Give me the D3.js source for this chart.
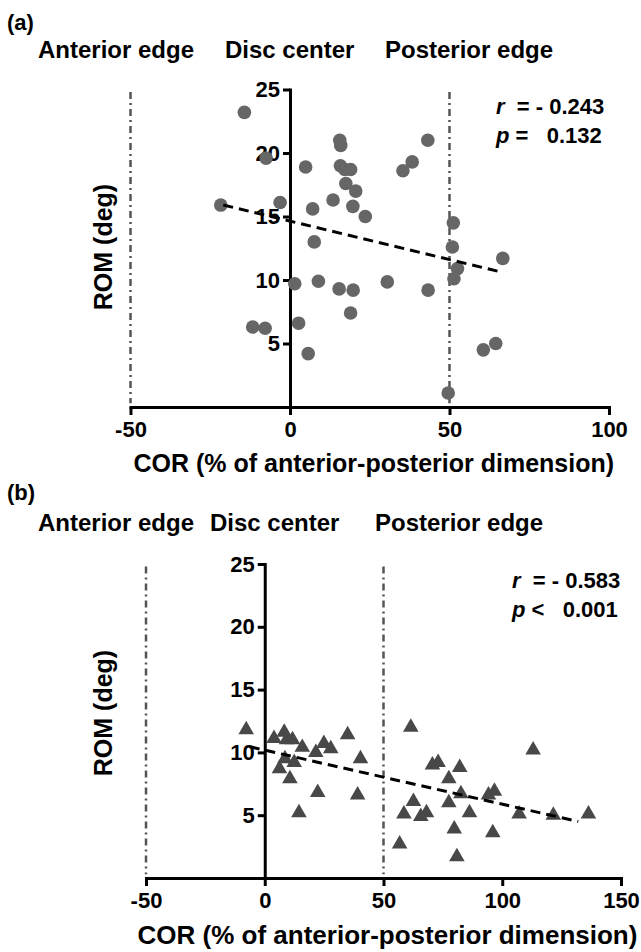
<html>
<head>
<meta charset="utf-8" />
<title>COR vs ROM</title>
<script src="https://d3js.org/d3.v7.min.js"></script>
<style>
  body { margin: 0; background: white; }
  text { font-family: "Liberation Sans", Arial, sans-serif; font-weight: bold; fill: black; }
  .axis path, .axis line { stroke: black; stroke-width: 3; }
  .axis text { font-size: 22px; }
  .edge { stroke: #555; stroke-width: 2.5; stroke-dasharray: 7,4,2,4; }
  .fit { stroke: black; stroke-width: 3; stroke-dasharray: 10,6; fill: none; }
</style>
</head>
<body>
<script>
// panel (a) - circles
var corA = [-14.3, -7.5, -21.7, -3.1, 4.9, 7.1, 7.6, 15.6, 15.9, 15.8, 17.2, 19.0, 17.5, 20.6, 13.5, 19.7, 23.6,
            1.5, 8.9, 15.4, 19.8, 19.0, 2.7, -11.7, -7.8, 5.7, 30.5,
            43.2, 38.3, 35.4, 51.2, 50.9, 52.5, 51.4, 66.7, 43.3, 60.6, 64.5, 49.6];
var romA = [23.2, 19.6, 15.9, 16.1, 18.9, 15.6, 13.0, 21.0, 20.6, 19.0, 18.7, 18.7, 17.6, 17.0, 16.3, 15.8, 15.0,
            9.7, 9.9, 9.3, 9.2, 7.4, 6.6, 6.3, 6.2, 4.2, 9.85,
            21.0, 19.3, 18.6, 14.5, 12.6, 10.9, 10.1, 11.7, 9.2, 4.5, 5.0, 1.1];
var fitA = [[-20.9, 15.9], [66.7, 10.6]];

// panel (b) - triangles
var corB = [-7.8, 3.9, 8.2, 9.2, 11.7, 15.8, 21.5, 24.9, 27.8, 34.9, 40.3, 8.5, 12.4, 6.2, 10.6, 22.3, 39.1, 14.4,
            61.5, 113.0, 70.6, 73.0, 82.1, 77.5, 82.6, 77.5, 62.6, 94.2, 96.7, 58.6, 65.7, 68.1, 86.2, 107.1,
            121.5, 136.3, 56.8, 79.8, 96.0, 80.9];
var romB = [11.8, 11.1, 11.6, 11.0, 11.0, 10.4, 10.0, 10.7, 10.3, 11.4, 9.5, 9.5, 9.2, 8.7, 7.9, 6.8, 6.6, 5.2,
            12.0, 10.2, 9.0, 9.2, 8.8, 7.9, 6.7, 6.0, 6.1, 6.6, 6.9, 5.1, 4.9, 5.2, 5.2, 5.1,
            5.0, 5.1, 2.7, 3.9, 3.6, 1.7];
var fitB = [[-6.3, 10.45], [132, 4.5]];

var yTicks = [5, 10, 15, 20, 25];
var xTicksA = [-50, 0, 50, 100];
var xTicksB = [-50, 0, 50, 100, 150];
var edges = [-50, 50];
var xTitle = "COR (% of anterior-posterior dimension)";
var yTitle = "ROM (deg)";

var svg = d3.select("body").append("svg")
    .attr("width", 641)
    .attr("height", 952);

var panels = [
  {label: "(a)", labelY: 30, headY: 58, heads: [38, 225, 385],
   xs: corA, ys: romA, fit: fitA, xDomain: [-50, 100], xRange: [130.5, 609], yRange: [407, 89.5],
   xTicks: xTicksA, shape: "circle", r: "r", rv: "= - 0.243", p: "p", pop: "=", pv: "0.132",
   statX: 496, statY: 114, yLabelY: 247, xTitleY: 472, xTitleSize: 25},
  {label: "(b)", labelY: 500, headY: 531, heads: [38, 210, 375],
   xs: corB, ys: romB, fit: fitB, xDomain: [-50, 150], xRange: [146, 621], yRange: [878, 564],
   xTicks: xTicksB, shape: "triangle", r: "r", rv: "= - 0.583", p: "p", pop: "<", pv: "0.001",
   statX: 512, statY: 588, yLabelY: 713, xTitleY: 944, xTitleSize: 26}
];

panels.forEach(function(pn) {
  var x = d3.scaleLinear().domain(pn.xDomain).range(pn.xRange),
      y = d3.scaleLinear().domain([0, 25]).range(pn.yRange);
  var g = svg.append("g");

  // panel label and region headings
  g.append("text").attr("x", 7).attr("y", pn.labelY).style("font-size", "22px").text(pn.label);
  ["Anterior edge", "Disc center", "Posterior edge"].forEach(function(t, i) {
    g.append("text").attr("x", pn.heads[i]).attr("y", pn.headY).style("font-size", "24px").text(t);
  });

  // dash-dot edge markers
  g.selectAll(".edge").data(edges).enter().append("line")
      .attr("class", "edge")
      .attr("x1", function(d) { return x(d); })
      .attr("x2", function(d) { return x(d); })
      .attr("y1", y(24.8))
      .attr("y2", y(0.3));

  // axes (plain hyphen for negatives, as in the figure)
  g.append("g").attr("class", "axis")
      .attr("transform", "translate(0," + y(0) + ")")
      .call(d3.axisBottom(x).tickValues(pn.xTicks).tickSize(8).tickSizeOuter(0).tickPadding(6)
        .tickFormat(function(d) { return String(d); }));
  g.append("g").attr("class", "axis")
      .attr("transform", "translate(" + x(0) + ",0)")
      .call(d3.axisLeft(y).tickValues(yTicks).tickSize(7).tickSizeOuter(0).tickPadding(3));
  g.selectAll(".axis text").attr("fill", "black");
  g.selectAll(".axis path").attr("stroke-linecap", "square");

  // points
  var pts = d3.range(pn.xs.length);
  if (pn.shape === "circle") {
    g.selectAll(".pt").data(pts).enter().append("circle")
        .attr("cx", function(i) { return x(pn.xs[i]); })
        .attr("cy", function(i) { return y(pn.ys[i]); })
        .attr("r", 6.8)
        .attr("fill", "#666");
  } else {
    var tri = d3.symbol().type(d3.symbolTriangle).size(105);
    g.selectAll(".pt").data(pts).enter().append("path")
        .attr("d", tri)
        .attr("transform", function(i) { return "translate(" + x(pn.xs[i]) + "," + y(pn.ys[i]) + ")"; })
        .attr("fill", "#484848");
  }

  // regression line
  g.append("path").attr("class", "fit")
      .attr("d", d3.line().x(function(d) { return x(d[0]); }).y(function(d) { return y(d[1]); })(pn.fit));

  // statistics
  var s1 = g.append("text").attr("x", pn.statX).attr("y", pn.statY).style("font-size", "22px").attr("xml:space", "preserve");
  s1.append("tspan").style("font-style", "italic").text(pn.r);
  s1.append("tspan").text("  " + pn.rv);
  var s2 = g.append("text").attr("x", pn.statX).attr("y", pn.statY + 29).style("font-size", "22px").attr("xml:space", "preserve");
  s2.append("tspan").style("font-style", "italic").text(pn.p);
  s2.append("tspan").text(" " + pn.pop + "   " + pn.pv);

  // axis titles
  g.append("text")
      .attr("transform", "translate(112," + pn.yLabelY + ")rotate(-90)")
      .attr("text-anchor", "middle")
      .style("font-size", "25px")
      .text(yTitle);
  g.append("text")
      .attr("x", (pn.xRange[0] + pn.xRange[1]) / 2 + 4)
      .attr("y", pn.xTitleY)
      .attr("text-anchor", "middle")
      .style("font-size", pn.xTitleSize + "px")
      .text(xTitle);
});
</script>
</body>
</html>
